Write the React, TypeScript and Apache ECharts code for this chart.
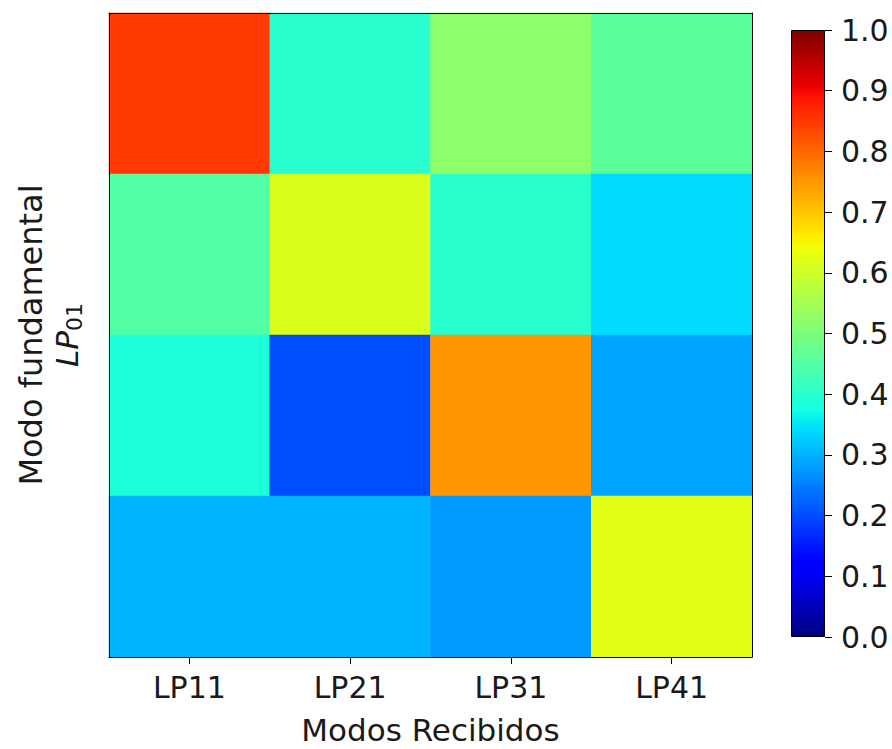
import React, { useEffect, useRef } from "react";
import * as echarts from "echarts";

const xCategories = ["LP11", "LP21", "LP31", "LP41"];
const yCategories = ["r0", "r1", "r2", "r3"];
// matrix values, top row first
const row0 = [0.85, 0.40, 0.52, 0.46];
const row1 = [0.45, 0.615, 0.40, 0.34];
const row2 = [0.385, 0.20, 0.75, 0.285];
const row3 = [0.30, 0.30, 0.275, 0.625];
const rows = [row0, row1, row2, row3];

// matplotlib "jet" segment data
const jetR: [number, number][] = [[0, 0], [0.35, 0], [0.66, 1], [0.89, 1], [1, 0.5]];
const jetG: [number, number][] = [[0, 0], [0.125, 0], [0.375, 1], [0.64, 1], [0.91, 0], [1, 0]];
const jetB: [number, number][] = [[0, 0.5], [0.11, 1], [0.34, 1], [0.65, 0], [1, 0]];

function seg(pts: [number, number][], t: number) {
  for (let i = 1; i < pts.length; i++) {
    if (t <= pts[i][0]) {
      const [x0, y0] = pts[i - 1];
      const [x1, y1] = pts[i];
      return y0 + ((t - x0) / (x1 - x0)) * (y1 - y0);
    }
  }
  return pts[pts.length - 1][1];
}
function jet(t: number) {
  const r = Math.round(seg(jetR, t) * 255);
  const g = Math.round(seg(jetG, t) * 255);
  const b = Math.round(seg(jetB, t) * 255);
  return `rgb(${r},${g},${b})`;
}
const N = 200;
const jetColors: string[] = [];
for (let i = 0; i <= N; i++) jetColors.push(jet(i / N));

const FONT = "DejaVu Sans";
const TXT = "#1a1a1a";

export default function App() {
  const ref = useRef<HTMLDivElement>(null);
  useEffect(() => {
    if (!ref.current) return;
    const chart = echarts.init(ref.current, undefined, { renderer: "svg" });
    const data: [number, number, number][] = [];
    rows.forEach((row, yi) => row.forEach((v, xi) => data.push([xi, yi, v])));
    const stops = jetColors.map((c, i) => ({ offset: i / N, color: c }));

    chart.setOption({
      animation: false,
      textStyle: { fontFamily: FONT },
      grid: [
        { left: 109, top: 13, width: 643, height: 644, outerBoundsMode: "none", containLabel: false },
        { left: 791, top: 30, width: 34, height: 607, outerBoundsMode: "none", containLabel: false },
      ],
      visualMap: {
        show: false,
        min: 0,
        max: 1,
        dimension: 2,
        seriesIndex: 0,
        inRange: { color: jetColors },
      },
      xAxis: [
        {
          type: "category",
          gridIndex: 0,
          data: xCategories,
          position: "bottom",
          z: 10,
          axisLine: { show: true, lineStyle: { color: "#000", width: 1 } },
          axisTick: { show: true, alignWithLabel: true, length: 7, lineStyle: { color: "#000" } },
          axisLabel: { fontSize: 30, color: TXT, margin: 15, fontFamily: FONT },
          splitLine: { show: false },
          name: "Modos Recibidos",
          nameLocation: "middle",
          nameGap: 57,
          nameTextStyle: { fontSize: 31, lineHeight: 32, color: TXT, fontFamily: FONT },
        },
        {
          type: "category",
          gridIndex: 0,
          data: xCategories,
          position: "top",
          z: 10,
          axisLine: { show: true, lineStyle: { color: "#000", width: 1 } },
          axisTick: { show: false },
          axisLabel: { show: false },
          splitLine: { show: false },
        },
        {
          type: "category",
          gridIndex: 1,
          data: ["c"],
          show: false,
        },
      ],
      yAxis: [
        {
          type: "category",
          gridIndex: 0,
          data: yCategories,
          inverse: true,
          position: "left",
          z: 10,
          axisLine: { show: true, lineStyle: { color: "#000", width: 1 } },
          axisTick: { show: false },
          axisLabel: { show: false },
          splitLine: { show: false },
          name: "{n|Modo fundamental}\n{i|LP}{s|01}",
          nameLocation: "middle",
          nameRotate: 90,
          nameGap: 24,
          nameTextStyle: {
            color: TXT,
            fontFamily: FONT,
            align: "center",
            rich: {
              n: { fontSize: 32, lineHeight: 36, color: TXT, fontFamily: FONT },
              i: { fontSize: 31, lineHeight: 36, fontStyle: "italic", color: TXT, fontFamily: FONT },
              s: { fontSize: 22, lineHeight: 21, verticalAlign: "bottom", color: TXT, fontFamily: FONT },
            },
          },
        },
        {
          type: "category",
          gridIndex: 0,
          data: yCategories,
          inverse: true,
          position: "right",
          z: 10,
          axisLine: { show: true, lineStyle: { color: "#000", width: 1 } },
          axisTick: { show: false },
          axisLabel: { show: false },
          splitLine: { show: false },
        },
        {
          type: "value",
          gridIndex: 1,
          min: 0,
          max: 1,
          interval: 0.1,
          position: "right",
          axisLine: { show: false },
          axisTick: { show: true, length: 7, lineStyle: { color: "#000" } },
          axisLabel: {
            fontSize: 30,
            color: TXT,
            margin: 16,
            fontFamily: FONT,
            formatter: (v: number) => v.toFixed(1),
          },
          splitLine: { show: false },
        },
      ],
      series: [
        {
          type: "heatmap",
          xAxisIndex: 0,
          yAxisIndex: 0,
          data,
          silent: true,
          itemStyle: { borderWidth: 0 },
        },
        {
          type: "bar",
          xAxisIndex: 2,
          yAxisIndex: 2,
          data: [1],
          barWidth: "100%",
          silent: true,
          itemStyle: {
            color: new echarts.graphic.LinearGradient(0, 1, 0, 0, stops),
            borderColor: "#000",
            borderWidth: 1,
          },
        },
      ],
    });
    return () => chart.dispose();
  }, []);
  return <div ref={ref} style={{ width: 892, height: 749, position: "absolute", left: 0, top: 0 }} />;
}
